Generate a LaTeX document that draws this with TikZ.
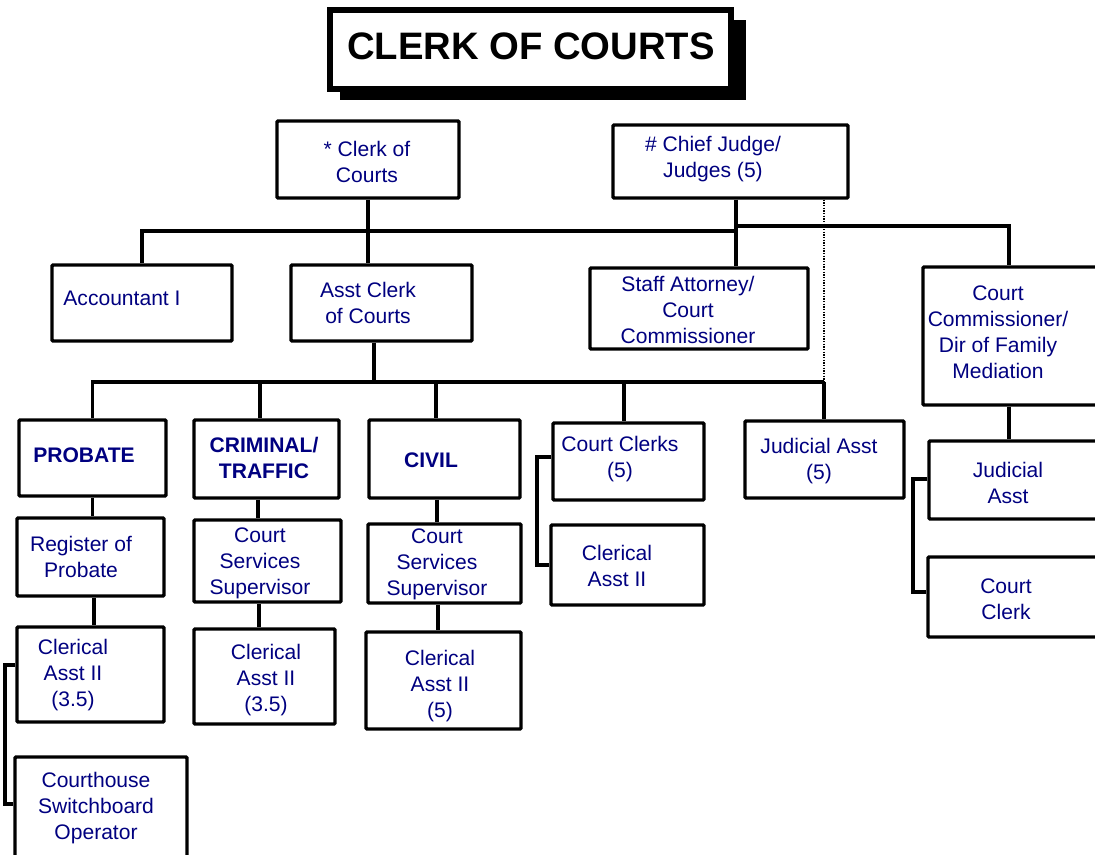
\documentclass[tikz,border=0pt]{standalone}
\usepackage{fontspec}
\setmainfont{Liberation Sans}
\usetikzlibrary{fit}
\definecolor{navy}{RGB}{0,0,128}
\begin{document}
\begin{tikzpicture}[x=0.75pt,y=-0.75pt,
  box/.style={draw, line width=2.6pt, fill=white, inner sep=0pt, rounded corners=0.8pt},
  conn/.style={line width=2.6pt},
  dotline/.style={line width=1pt, dash pattern=on 1pt off 1pt},
  txt/.style={text=navy, align=center, inner sep=0pt, font=\fontsize{15.8}{19.5}\selectfont},
  btxt/.style={txt, font=\fontsize{15.8}{19.5}\selectfont\bfseries}]
\clip (0,0) rectangle (1095,854);
\fill[white] (0,0) rectangle (1095,854);
% title
\fill[black] (340,20) rectangle (746,100);
\node[box, line width=3.8pt, rounded corners=0pt, fit={(330,10)(731,89)}] (title) {};
\node[font=\fontsize{28.7}{32}\selectfont\bfseries, inner sep=0pt] (ttitle) at (531,46) {CLERK OF COURTS};
% boxes
\node[box, fit={(277,121)(459,198)}] (clerk) {};
\node[box, fit={(613,125)(848,198)}] (judge) {};
\node[box, fit={(52,265)(232,341)}] (acct) {};
\node[box, fit={(291,265)(472,341)}] (asst) {};
\node[box, fit={(590,268)(808,349)}] (staff) {};
\node[box, fit={(923,267)(1110,405)}] (ccomm) {};
\node[box, fit={(19,420)(166,496)}] (probate) {};
\node[box, fit={(194,420)(339,498)}] (crim) {};
\node[box, fit={(369,420)(520,498)}] (civil) {};
\node[box, fit={(553,423)(704,500)}] (cclerks) {};
\node[box, fit={(745,421)(904,498)}] (jasst) {};
\node[box, fit={(929,441)(1110,519)}] (jasst2) {};
\node[box, fit={(928,557)(1110,637)}] (cclerk2) {};
\node[box, fit={(17,518)(164,596)}] (reg) {};
\node[box, fit={(194,520)(341,602)}] (css1) {};
\node[box, fit={(368,524)(521,603)}] (css2) {};
\node[box, fit={(551,525)(704,605)}] (cler4) {};
\node[box, fit={(17,627)(164,722)}] (cler1) {};
\node[box, fit={(194,629)(335,724)}] (cler2) {};
\node[box, fit={(366,632)(521,729)}] (cler3) {};
\node[box, fit={(15,757)(187,870)}] (switch) {};
% texts
\node[txt] (t-clerk) at (367,162) {* Clerk of\\Courts};
\node[txt] (t-judge) at (713,159) {\# Chief Judge/\\Judges (5)};
\node[txt] (t-acct) at (122,298) {Accountant I};
\node[txt] (t-asst) at (368,303) {Asst Clerk\\of Courts};
\node[txt] (t-staff) at (688,310) {Staff Attorney/\\Court\\Commissioner};
\node[txt] (t-ccomm) at (998,332) {Court\\Commissioner/\\Dir of Family\\Mediation};
\node[btxt] (t-probate) at (84,455) {PROBATE};
\node[btxt] (t-crim) at (264,458) {CRIMINAL/\\TRAFFIC};
\node[btxt] (t-civil) at (431,460) {CIVIL};
\node[txt] (t-cclerks) at (620,459) {Court Clerks\\(5)};
\node[txt] (t-jasst) at (819,461) {Judicial Asst\\(5)};
\node[txt] (t-jasst2) at (1008,483) {Judicial\\Asst};
\node[txt] (t-cclerk2) at (1006,599) {Court\\Clerk};
\node[txt] (t-reg) at (81,557) {Register of\\Probate};
\node[txt] (t-css1) at (260,563) {Court\\Services\\Supervisor};
\node[txt] (t-css2) at (437,564) {Court\\Services\\Supervisor};
\node[txt] (t-cler4) at (617,566) {Clerical\\Asst II};
\node[txt] (t-cler1) at (73,675) {Clerical\\Asst II\\(3.5)};
\node[txt] (t-cler2) at (266,680) {Clerical\\Asst II\\(3.5)};
\node[txt] (t-cler3) at (440,686) {Clerical\\Asst II\\(5)};
\node[txt] (t-switch) at (96,808) {Courthouse\\Switchboard\\Operator};
% helper coordinates
\coordinate (xj) at (736,231);
\coordinate (xj2) at (736,226);
\coordinate (xc) at (1009,226);
\coordinate (xd) at (824,382);
\coordinate (xa) at (374,382);
\coordinate (dcrim) at (260,382);
\coordinate (dcivil) at (436,382);
\coordinate (dcc) at (624,382);
\coordinate (vprob) at (94,0);
\coordinate (vcrim) at (258,0);
\coordinate (vcrim2) at (259,0);
\coordinate (vcivil) at (437,0);
\coordinate (vcivil2) at (438,0);
\coordinate (a1) at (537,457);
\coordinate (a2) at (537,565);
\coordinate (r1) at (913,479);
\coordinate (r2) at (913,592);
\coordinate (s1) at (5,665);
\coordinate (s2) at (5,804);
% connectors
\draw[conn] (acct.north) |- (xj);
\draw[conn] (clerk.south) -- (clerk.south |- asst.north);
\draw[conn] (judge.south -| xj) -- (staff.north -| xj);
\draw[conn] (xj2) -- (xc) -- (xc |- ccomm.north);
\draw[dotline] (judge.south -| xd) -- (xd);
\draw[conn] (asst.south -| xa) -- (xa);
\draw[conn] (probate.north) |- (xd);
\draw[conn] (dcrim) -- (dcrim |- crim.north);
\draw[conn] (dcivil) -- (dcivil |- civil.north);
\draw[conn] (dcc) -- (dcc |- cclerks.north);
\draw[conn] (xd) -- (xd |- jasst.north);
\draw[conn] (ccomm.south -| xc) -- (jasst2.north -| xc);
\draw[conn] (probate.south) -- (probate.south |- reg.north);
\draw[conn] (reg.south -| vprob) -- (cler1.north -| vprob);
\draw[conn] (crim.south -| vcrim) -- (css1.north -| vcrim);
\draw[conn] (css1.south -| vcrim2) -- (cler2.north -| vcrim2);
\draw[conn] (civil.south -| vcivil) -- (css2.north -| vcivil);
\draw[conn] (css2.south -| vcivil2) -- (cler3.north -| vcivil2);
\draw[conn] (cclerks.west |- a1) -- (a1) -- (a2) -- (cler4.west |- a2);
\draw[conn] (jasst2.west |- r1) -- (r1) -- (r2) -- (cclerk2.west |- r2);
\draw[conn] (cler1.west |- s1) -- (s1) -- (s2) -- (switch.west |- s2);
\end{tikzpicture}
\end{document}
